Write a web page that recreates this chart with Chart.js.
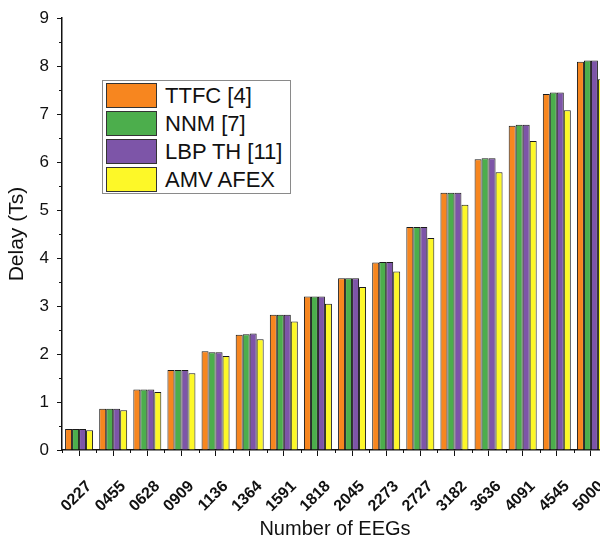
<!DOCTYPE html>
<html>
<head>
<meta charset="utf-8">
<script src="https://cdn.jsdelivr.net/npm/chart.js@4.4.1/dist/chart.umd.min.js"></script>
<style>
  html, body { margin: 0; padding: 0; background: #fff; overflow: hidden; }
  #wrap { position: relative; width: 620px; height: 538px; }
  #legend {
    position: absolute; left: 102px; top: 80px; width: 187px; height: 112px;
    border: 1px solid #8a8a8a; background: #fff;
    font-family: "Liberation Sans", Arial, sans-serif; font-size: 22px; color: #111;
  }
  #legend .row { position: absolute; left: 3px; height: 25px; }
  #legend .sw { position: absolute; left: 0; top: 0; width: 49px; height: 23px; border: 1px solid #333; }
  #legend .lbl { position: absolute; left: 59px; top: 0; line-height: 25px; white-space: nowrap; }
</style>
</head>
<body>
<div id="wrap">
  <canvas id="chart" width="620" height="538"></canvas>
  <div id="legend"></div>
</div>
<script>
const categories = ['0227', '0455', '0628', '0909', '1136', '1364', '1591', '1818',
                    '2045', '2273', '2727', '3182', '3636', '4091', '4545', '5000'];
const ttfcValues = [0.44, 0.86, 1.26, 1.67, 2.06, 2.40, 2.82, 3.20, 3.58, 3.91, 4.65, 5.36, 6.06, 6.76, 7.42, 8.09];
const nnmValues  = [0.44, 0.86, 1.26, 1.67, 2.04, 2.41, 2.82, 3.20, 3.58, 3.92, 4.65, 5.36, 6.08, 6.78, 7.45, 8.12];
const lbpValues  = [0.44, 0.86, 1.26, 1.67, 2.04, 2.43, 2.82, 3.20, 3.58, 3.92, 4.65, 5.36, 6.08, 6.78, 7.45, 8.12];
const amvValues  = [0.41, 0.83, 1.21, 1.60, 1.96, 2.31, 2.68, 3.05, 3.40, 3.72, 4.42, 5.11, 5.79, 6.44, 7.08, 7.73];
const seriesNames = ['TTFC [4]', 'NNM [7]', 'LBP TH [11]', 'AMV AFEX'];
const seriesColors = ['#f7861f', '#4cae4c', '#7d55a8', '#fdf828'];
const yTicks = [0, 1, 2, 3, 4, 5, 6, 7, 8, 9];

const FONT = '"Liberation Sans", Arial, sans-serif';

// small ticks between the labelled ones (Origin style)
const minorTicks = {
  id: 'minorTicks',
  afterDraw(chart) {
    const ctx = chart.ctx;
    const x = chart.scales.x;
    const y = chart.scales.y;
    ctx.save();
    ctx.strokeStyle = '#111';
    ctx.lineWidth = 1;
    ctx.beginPath();
    for (let i = 0; i < categories.length; i++) {
      const px = Math.round((x.getPixelForValue(i) + (i > 0 ? x.getPixelForValue(i - 1) : 2 * x.getPixelForValue(i) - x.getPixelForValue(i + 1))) / 2) + 0.5;
      ctx.moveTo(px, y.bottom);
      ctx.lineTo(px, y.bottom + 3);
    }
    for (let i = 0; i < yTicks.length - 1; i++) {
      const py = Math.round(y.getPixelForValue(yTicks[i] + 0.5)) + 0.5;
      ctx.moveTo(y.right, py);
      ctx.lineTo(y.right - 3, py);
    }
    ctx.stroke();
    ctx.restore();
  }
};

const datasets = [ttfcValues, nnmValues, lbpValues, amvValues].map((vals, i) => ({
  label: seriesNames[i],
  data: vals,
  backgroundColor: seriesColors[i],
  borderColor: '#1a1a1a',
  borderWidth: 1,
  borderSkipped: 'bottom',
  categoryPercentage: 0.82,
  barPercentage: 1.0
}));

const chart = new Chart(document.getElementById('chart'), {
  type: 'bar',
  data: { labels: categories, datasets: datasets },
  options: {
    responsive: false,
    animation: false,
    layout: { padding: { top: 17, left: 0, right: 12, bottom: 0 } },
    plugins: { legend: { display: false }, tooltip: { enabled: false } },
    scales: {
      x: {
        grid: { display: true, drawOnChartArea: false, offset: false, tickLength: 6, color: '#111', tickWidth: 1 },
        border: { display: true, color: '#111', width: 1.5 },
        ticks: {
          autoSkip: false, minRotation: 45, maxRotation: 45, padding: 21, labelOffset: 10,
          color: '#111', font: { family: FONT, size: 16, weight: 'bold' }
        },
        title: {
          display: true, text: 'Number of EEGs', color: '#111',
          font: { family: FONT, size: 20 }, padding: { top: 0, bottom: -3 }
        },
        afterFit(scale) {
          scale.height = 88;
          scale.paddingLeft = 0;
          scale.paddingRight = 0;
        }
      },
      y: {
        min: 0, max: 9,
        grid: { display: true, drawOnChartArea: false, tickLength: 5, color: '#111', tickWidth: 1 },
        border: { display: true, color: '#111', width: 1.5 },
        ticks: {
          stepSize: 1, padding: 8, color: '#111',
          font: { family: FONT, size: 17 }
        },
        title: {
          display: true, text: 'Delay (Ts)', color: '#111',
          font: { family: FONT, size: 21 }, padding: { top: 5, bottom: 0 }
        },
        afterFit(scale) { scale.width = 62; }
      }
    }
  },
  plugins: [minorTicks]
});

// legend box built from the chart's datasets
const legendBox = document.getElementById('legend');
chart.data.datasets.forEach((ds, i) => {
  const row = document.createElement('div');
  row.className = 'row';
  row.style.top = (2 + i * 28) + 'px';
  row.innerHTML = '<div class="sw" style="background:' + ds.backgroundColor + '"></div><div class="lbl">' + ds.label + '</div>';
  legendBox.appendChild(row);
});
</script>
</body>
</html>
